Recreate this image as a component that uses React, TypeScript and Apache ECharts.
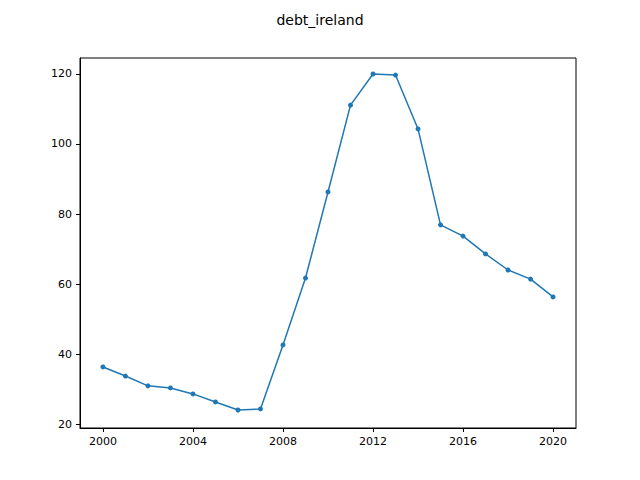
import { useEffect, useRef } from "react";
import * as echarts from "echarts";

const years = [2000, 2001, 2002, 2003, 2004, 2005, 2006, 2007, 2008, 2009, 2010, 2011, 2012, 2013, 2014, 2015, 2016, 2017, 2018, 2019, 2020];
const debt = [36.3, 33.7, 30.9, 30.3, 28.6, 26.3, 24.0, 24.3, 42.6, 61.7, 86.3, 111.1, 120.0, 119.7, 104.3, 76.9, 73.7, 68.6, 64.0, 61.4, 56.3];
const xTicks = [2000, 2004, 2008, 2012, 2016, 2020];
const yTicks = [20, 40, 60, 80, 100, 120];

function App() {
  const chartRef = useRef(null);

  useEffect(() => {
    const chart = echarts.init(chartRef.current, null, { renderer: "svg" });
    const font = "DejaVu Sans";
    chart.setOption({
      animation: false,
      title: {
        text: "debt_ireland",
        left: "center",
        top: 8,
        textStyle: { fontFamily: font, fontSize: 14, fontWeight: "normal", color: "#000" },
      },
      grid: { left: 80, right: 64, top: 58, bottom: 52, show: true, borderColor: "#000", borderWidth: 1 },
      xAxis: {
        type: "value",
        min: 1998.98,
        max: 2021.02,
        splitLine: { show: false },
        axisLine: { lineStyle: { color: "#000" } },
        axisTick: { customValues: xTicks, length: 4, lineStyle: { color: "#000" } },
        axisLabel: {
          customValues: xTicks,
          formatter: (v: number) => String(Math.round(v)),
          color: "#000",
          fontFamily: font,
          fontSize: 11,
          margin: 8,
        },
      },
      yAxis: {
        type: "value",
        min: 18.86,
        max: 124.57,
        splitLine: { show: false },
        axisLine: { show: true, lineStyle: { color: "#000" } },
        axisTick: { show: true, customValues: yTicks, length: 4, lineStyle: { color: "#000" } },
        axisLabel: { customValues: yTicks, color: "#000", fontFamily: font, fontSize: 11, margin: 8 },
      },
      series: [
        {
          type: "line",
          data: years.map((y, i) => [y, debt[i]]),
          symbol: "circle",
          symbolSize: 5,
          itemStyle: { color: "#1f77b4" },
          lineStyle: { color: "#1f77b4", width: 1.5 },
        },
      ],
    });
    return () => chart.dispose();
  }, []);

  return <div ref={chartRef} style={{ width: 640, height: 480, margin: -8 }}></div>;
}

export default App;
